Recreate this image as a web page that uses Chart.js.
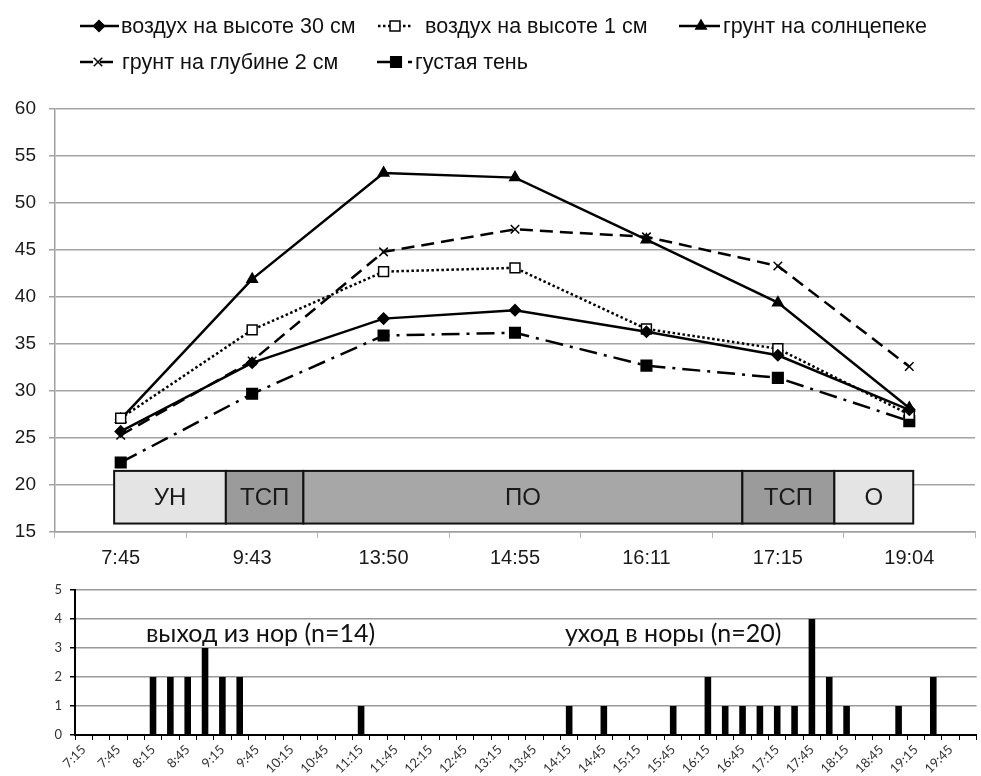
<!DOCTYPE html>
<html>
<head>
<meta charset="utf-8">
<script src="https://cdn.jsdelivr.net/npm/chart.js@4.4.1/dist/chart.umd.min.js"></script>
<style>
  html, body { margin: 0; padding: 0; background: #fff; overflow: hidden; width: 981px; height: 776px; }
  #temps { position: absolute; left: 0; top: 0; }
  #burrows { position: absolute; left: 0; top: 570px; }
</style>
</head>
<body>
<canvas id="temps" width="984" height="570"></canvas>
<canvas id="burrows" width="981" height="206"></canvas>
<script>
// ---- Temperatures (°C) at the observation times ----
const sampleTimes = ['7:45', '9:43', '13:50', '14:55', '16:11', '17:15', '19:04'];
const air30cm   = [25.7, 33.0, 37.7, 38.6, 36.3, 33.8, 28.0];
const air1cm    = [27.1, 36.5, 42.7, 43.1, 36.6, 34.5, 27.5];
const soilSun   = [27.0, 41.9, 53.2, 52.7, 46.1, 39.4, 28.2];
const soil2cm   = [25.3, 33.2, 44.8, 47.2, 46.4, 43.3, 32.6];
const deepShade = [22.4, 29.7, 35.9, 36.2, 32.7, 31.4, 26.8];

const seriesNames = [
  'воздух на высоте 30 см',
  'воздух на высоте 1 см',
  'грунт на солнцепеке',
  'грунт на глубине 2 см',
  'густая тень'
];

// ---- Activity phases (edges in units of the observation index) ----
const phaseNames = ['УН', 'ТСП', 'ПО', 'ТСП', 'О'];
const phaseEdges = [-0.05, 0.80, 1.39, 4.73, 5.43, 6.03];
const phaseBandRange = [15.9, 21.5];

// ---- Burrow exits / entries per 15-minute slot ----
const slotTimes = [
  '7:15', '7:30', '7:45', '8:00', '8:15', '8:30', '8:45', '9:00', '9:15', '9:30',
  '9:45', '10:00', '10:15', '10:30', '10:45', '11:00', '11:15', '11:30', '11:45', '12:00',
  '12:15', '12:30', '12:45', '13:00', '13:15', '13:30', '13:45', '14:00', '14:15', '14:30',
  '14:45', '15:00', '15:15', '15:30', '15:45', '16:00', '16:15', '16:30', '16:45', '17:00',
  '17:15', '17:30', '17:45', '18:00', '18:15', '18:30', '18:45', '19:00', '19:15', '19:30',
  '19:45', '20:00'
];
const burrowCounts = [
  0, 0, 0, 0, 2, 2, 2, 3, 2, 2,
  0, 0, 0, 0, 0, 0, 1, 0, 0, 0,
  0, 0, 0, 0, 0, 0, 0, 0, 1, 0,
  1, 0, 0, 0, 1, 0, 2, 1, 1, 1,
  1, 1, 4, 2, 1, 0, 0, 1, 0, 2,
  0, 0
];
const noteTexts = ['выход из нор (n=14)', 'уход в норы (n=20)'];
const noteSlots = [10.2, 34.0];
const noteLevel = 3.5;

// ---- styling ----
const SANS = '"Liberation Sans", Arial, sans-serif';
const HUMAN = 'Lato, "Open Sans", sans-serif';
const phaseFills = ['#e4e4e4', '#9b9b9b', '#a7a7a7', '#9b9b9b', '#e4e4e4'];

function lineSeries(label, data, extra) {
  return Object.assign({
    label, data,
    borderColor: '#000',
    borderWidth: 2.5,
    tension: 0,
    fill: false,
    pointBorderColor: '#000',
    pointBackgroundColor: '#000',
    pointBorderWidth: 1.5,
    pointRadius: 5.5
  }, extra);
}

// Coloured phase strip drawn inside the plot under the lines
const phaseStrip = {
  id: 'phaseStrip',
  beforeDatasetsDraw(chart) {
    const { ctx, scales: { x, y } } = chart;
    const yTop = y.getPixelForValue(phaseBandRange[1]);
    const yBot = y.getPixelForValue(phaseBandRange[0]);
    ctx.save();
    for (let i = 0; i < phaseNames.length; i++) {
      const x0 = x.getPixelForValue(phaseEdges[i]);
      const x1 = x.getPixelForValue(phaseEdges[i + 1]);
      ctx.fillStyle = phaseFills[i];
      ctx.fillRect(x0, yTop, x1 - x0, yBot - yTop);
      ctx.lineWidth = 2;
      ctx.strokeStyle = '#111';
      ctx.strokeRect(x0, yTop, x1 - x0, yBot - yTop);
      ctx.fillStyle = '#1a1a1a';
      ctx.font = '24px ' + SANS;
      ctx.textAlign = 'center';
      ctx.textBaseline = 'middle';
      ctx.fillText(phaseNames[i], (x0 + x1) / 2, (yTop + yBot) / 2 + 1);
    }
    ctx.restore();
  }
};

// Two-row legend with line samples and markers
const sampleLegend = {
  id: 'sampleLegend',
  afterDraw(chart) {
    const { ctx } = chart;
    const slots = [
      { x0: 80, x1: 119, mx: 99, tx: 121, y: 26, off: 0 },
      { x0: 378, x1: 413, mx: 395, tx: 425, y: 26, off: 0 },
      { x0: 679, x1: 720, mx: 701, tx: 723, y: 26, off: 0 },
      { x0: 80, x1: 118, mx: 98, tx: 122, y: 62, off: 0 },
      { x0: 377, x1: 412, mx: 396, tx: 415, y: 62, off: 4 }
    ];
    chart.data.datasets.forEach((ds, i) => {
      const s = slots[i];
      ctx.save();
      ctx.strokeStyle = '#000';
      ctx.lineWidth = ds.borderWidth;
      ctx.setLineDash(ds.borderDash || []);
      ctx.lineDashOffset = s.off;
      ctx.beginPath();
      ctx.moveTo(s.x0, s.y);
      ctx.lineTo(s.x1, s.y);
      ctx.stroke();
      ctx.setLineDash([]);
      ctx.fillStyle = ds.pointBackgroundColor;
      ctx.strokeStyle = ds.pointBorderColor;
      ctx.lineWidth = ds.pointBorderWidth;
      Chart.helpers.drawPoint(ctx, {
        pointStyle: ds.pointStyle, rotation: 0,
        radius: ds.pointRadius, borderWidth: ds.pointBorderWidth
      }, s.mx, s.y);
      ctx.fillStyle = '#111';
      ctx.font = '21.5px ' + SANS;
      ctx.textAlign = 'left';
      ctx.textBaseline = 'middle';
      ctx.fillText(ds.label, s.tx, s.y + 1);
      ctx.restore();
    });
  }
};

new Chart(document.getElementById('temps'), {
  type: 'line',
  data: {
    labels: sampleTimes,
    datasets: [
      lineSeries(seriesNames[0], air30cm, { pointStyle: 'rectRot', pointRadius: 5.5 }),
      lineSeries(seriesNames[1], air1cm, { borderDash: [2.5, 2.5], pointStyle: 'rect', pointRadius: 7, pointBackgroundColor: '#fff' }),
      lineSeries(seriesNames[2], soilSun, { pointStyle: 'triangle', pointRadius: 6 }),
      lineSeries(seriesNames[3], soil2cm, { borderDash: [13, 7], pointStyle: 'crossRot', pointRadius: 6 }),
      lineSeries(seriesNames[4], deepShade, { borderDash: [18, 7, 3, 7], pointStyle: 'rect', pointRadius: 7.5 })
    ]
  },
  options: {
    responsive: false,
    animation: false,
    layout: { padding: { top: 109, left: 0, right: 0, bottom: 0 } },
    plugins: { legend: { display: false }, tooltip: { enabled: false } },
    scales: {
      x: {
        offset: true,
        grid: { offset: true, drawOnChartArea: false, drawTicks: true, tickLength: 6, color: '#b5b5b5' },
        border: { color: '#a0a0a0', width: 1.5 },
        ticks: { font: { family: SANS, size: 20 }, color: '#1a1a1a', padding: 8, maxRotation: 0 },
        afterFit(s) { s.height = 38; }
      },
      y: {
        min: 15, max: 60,
        ticks: { stepSize: 5, font: { family: SANS, size: 19 }, color: '#1a1a1a', padding: 13 },
        grid: { color: '#a3a3a3', lineWidth: 1.5, tickLength: 6 },
        border: { color: '#a0a0a0', width: 1.5 },
        afterFit(s) { s.width = 55; }
      }
    }
  },
  plugins: [phaseStrip, sampleLegend]
});

// Captions over the histogram
const countNotes = {
  id: 'countNotes',
  afterDatasetsDraw(chart) {
    const { ctx, scales: { x, y } } = chart;
    ctx.save();
    ctx.fillStyle = '#111';
    ctx.font = '25px ' + HUMAN;
    ctx.textAlign = 'center';
    ctx.textBaseline = 'middle';
    noteTexts.forEach((t, i) => {
      ctx.fillText(t, x.getPixelForValue(noteSlots[i]), y.getPixelForValue(noteLevel));
    });
    ctx.restore();
  }
};

new Chart(document.getElementById('burrows'), {
  type: 'bar',
  data: {
    labels: slotTimes,
    datasets: [{ data: burrowCounts, backgroundColor: '#000', barPercentage: 0.38, categoryPercentage: 1 }]
  },
  options: {
    responsive: false,
    animation: false,
    layout: { padding: { top: 20, left: 0, right: 1, bottom: 0 } },
    plugins: { legend: { display: false }, tooltip: { enabled: false } },
    scales: {
      x: {
        grid: { offset: true, drawOnChartArea: false, tickLength: 5, color: '#000', tickColor: '#000' },
        border: { color: '#000', width: 2 },
        ticks: {
          autoSkip: false, minRotation: 45, maxRotation: 45,
          font: { family: HUMAN, size: 13 }, color: '#333', padding: 2,
          callback(v, i) { return i % 2 === 0 ? this.getLabelForValue(v) : ''; }
        },
        afterFit(s) { s.height = 41; }
      },
      y: {
        min: 0, max: 5,
        ticks: { stepSize: 1, font: { family: HUMAN, size: 13 }, color: '#333', padding: 8 },
        grid: { color: '#9a9a9a', lineWidth: 1.5, tickLength: 5, tickColor: '#000' },
        border: { color: '#000', width: 2 },
        afterFit(s) { s.width = 75; }
      }
    }
  },
  plugins: [countNotes]
});
</script>
</body>
</html>
